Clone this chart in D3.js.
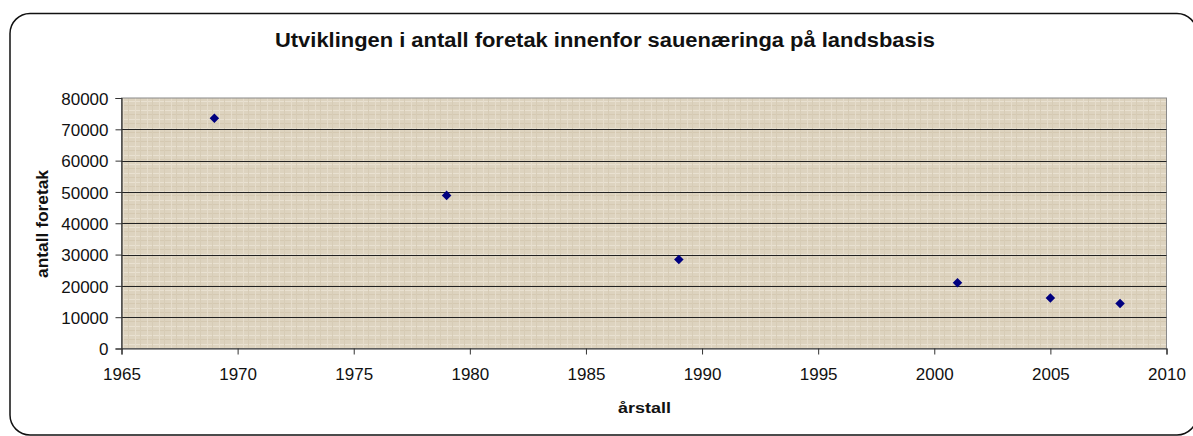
<!DOCTYPE html>
<html><head><meta charset="utf-8">
<script src="https://cdn.jsdelivr.net/npm/d3@7"></script>
<style>html,body{margin:0;padding:0;background:#fff;}svg{display:block;}</style>
</head><body>
<svg id="chart" width="1193" height="436"></svg>
<script>
const years = [1969, 1979, 1989, 2001, 2005, 2008];
const foretak = [73500, 48900, 28400, 21000, 16100, 14400];
const xTicks = [1965, 1970, 1975, 1980, 1985, 1990, 1995, 2000, 2005, 2010];
const yTicks = [0, 10000, 20000, 30000, 40000, 50000, 60000, 70000, 80000];
const title = "Utviklingen i antall foretak innenfor sauenæringa på landsbasis";
const xTitle = "årstall";
const yTitle = "antall foretak";

const svg = d3.select("#chart");
const font = "Liberation Sans, Arial, sans-serif";
const plot = {left: 121.5, right: 1166.5, top: 98, bottom: 348.5};

// outer rounded frame
svg.append("rect").attr("x", 10).attr("y", 13.5).attr("width", 1187).attr("height", 421.5)
  .attr("rx", 20).attr("ry", 20).attr("fill", "#fff").attr("stroke", "#111").attr("stroke-width", 1.5);

// texture pattern
const defs = svg.append("defs");
const pat = defs.append("pattern").attr("id", "tex").attr("patternUnits", "userSpaceOnUse")
  .attr("width", 12).attr("height", 9);
pat.append("rect").attr("width", 12).attr("height", 9).attr("fill", "#ddd3bf");
pat.append("rect").attr("x", 0).attr("y", 2).attr("width", 12).attr("height", 1).attr("fill", "#e9e1d1");
pat.append("rect").attr("x", 0).attr("y", 6).attr("width", 12).attr("height", 1).attr("fill", "#d5c9b2");
pat.append("rect").attr("x", 3).attr("y", 0).attr("width", 1).attr("height", 9).attr("fill", "#e6ddcc");
pat.append("rect").attr("x", 8).attr("y", 0).attr("width", 1).attr("height", 9).attr("fill", "#d7ccb6");

const x = d3.scaleLinear().domain([1965, 2010]).range([plot.left, plot.right]);
const y = d3.scaleLinear().domain([0, 80000]).range([plot.bottom, plot.top]);

svg.append("rect").attr("x", plot.left).attr("y", plot.top)
  .attr("width", plot.right - plot.left).attr("height", plot.bottom - plot.top)
  .attr("fill", "url(#tex)").attr("stroke", "#8a8a8a").attr("stroke-width", 1);

// gridlines
svg.append("g").selectAll("line").data(yTicks.filter(d => d > 0 && d < 80000)).join("line")
  .attr("x1", plot.left).attr("x2", plot.right)
  .attr("y1", d => Math.round(y(d)) + 0.5).attr("y2", d => Math.round(y(d)) + 0.5)
  .attr("stroke", "#222").attr("stroke-width", 1);

// axes
const xAxis = svg.append("g").attr("transform", `translate(0,${plot.bottom})`)
  .call(d3.axisBottom(x).tickValues(xTicks).tickFormat(d3.format("d")).tickSize(6).tickPadding(13.5));
const yAxis = svg.append("g").attr("transform", `translate(${plot.left},0)`)
  .call(d3.axisLeft(y).tickValues(yTicks).tickFormat(d3.format("d")).tickSize(6).tickPadding(7));
[xAxis, yAxis].forEach(g => {
  g.select(".domain").attr("stroke", "#333").attr("stroke-width", 1.2);
  g.selectAll(".tick line").attr("stroke", "#333");
  g.selectAll("text").attr("font-family", font).attr("font-size", 17).attr("fill", "#111");
});
yAxis.selectAll("text").attr("dy", "0.36em");

// markers
svg.append("g").selectAll("path").data(years.map((yr, i) => [yr, foretak[i]])).join("path")
  .attr("d", d3.symbol(d3.symbolDiamond2 ? d3.symbolDiamond2 : d3.symbolDiamond, 58))
  .attr("transform", d => `translate(${x(d[0])},${y(d[1])})`)
  .attr("fill", "#000080");

// titles
svg.append("text").attr("x", 605).attr("y", 47).attr("text-anchor", "middle")
  .attr("font-family", font).attr("font-weight", "bold").attr("font-size", 20)
  .attr("textLength", 660).attr("lengthAdjust", "spacingAndGlyphs")
  .attr("fill", "#111").text(title);
svg.append("text").attr("x", 644.5).attr("y", 413).attr("text-anchor", "middle")
  .attr("font-family", font).attr("font-weight", "bold").attr("font-size", 15.5)
  .attr("textLength", 53).attr("lengthAdjust", "spacingAndGlyphs")
  .attr("fill", "#111").text(xTitle);
svg.append("text").attr("transform", "translate(48,224) rotate(-90)").attr("text-anchor", "middle")
  .attr("font-family", font).attr("font-weight", "bold").attr("font-size", 16)
  .attr("textLength", 108).attr("lengthAdjust", "spacingAndGlyphs")
  .attr("fill", "#111").text(yTitle);
</script>
</body></html>
